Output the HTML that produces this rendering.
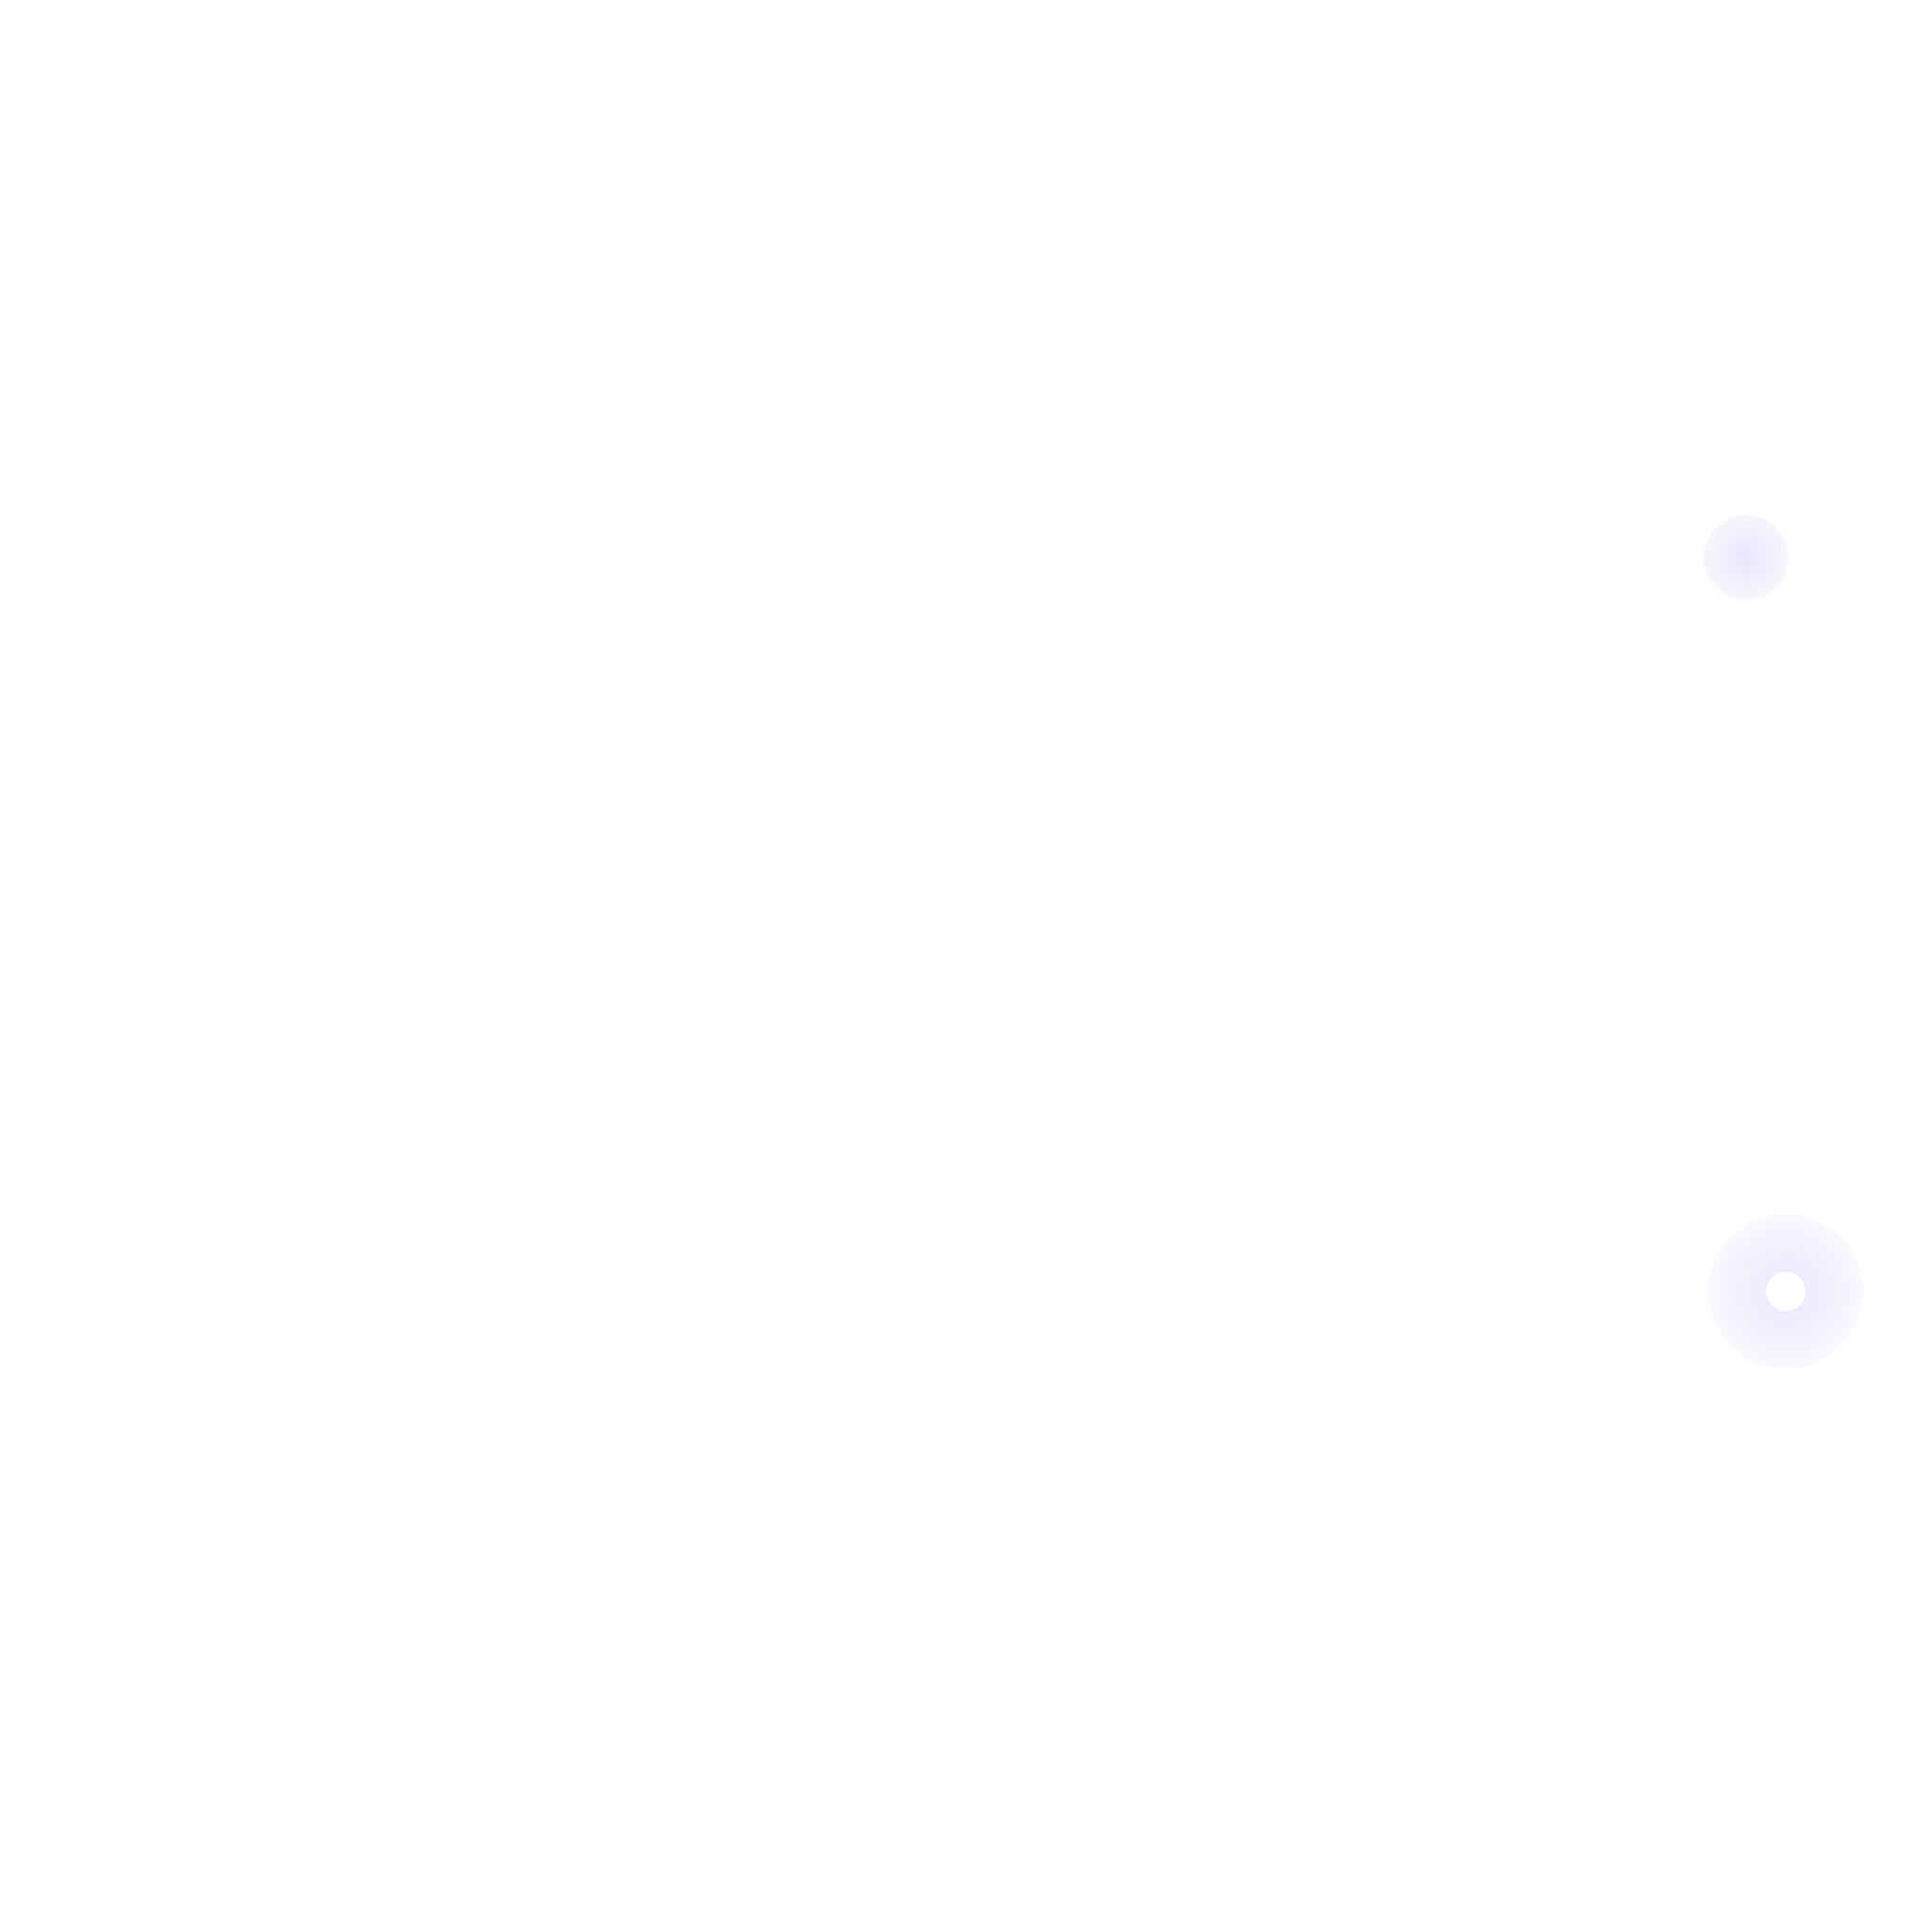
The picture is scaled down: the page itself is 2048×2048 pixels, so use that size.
<!DOCTYPE html>
<html><head><meta charset="utf-8"><style>
html,body{margin:0;padding:0;background:#fff;width:2048px;height:2048px;overflow:hidden}
.b1{position:absolute;left:1806px;top:546px;width:90px;height:90px;border-radius:50%;
background:radial-gradient(circle,#e8e6fd 0%,#f3f2fe 50%,#fcfcff 100%);box-shadow:0 0 1px #f6f2f3}
.b2{position:absolute;left:1811px;top:1287px;width:164px;height:164px;border-radius:50%;
background:radial-gradient(circle,rgba(234,232,253,1) 0%,rgba(240,239,254,1) 35%,rgba(246,245,255,0.8) 65%,rgba(255,255,255,0) 100%)}
.h{position:absolute;left:1872px;top:1348px;width:42px;height:42px;border-radius:50%;background:#fff;box-shadow:0 0 2px #e8e0f0}
</style></head><body>
<div class="b1"></div><div class="b2"></div><div class="h"></div>
</body></html>
